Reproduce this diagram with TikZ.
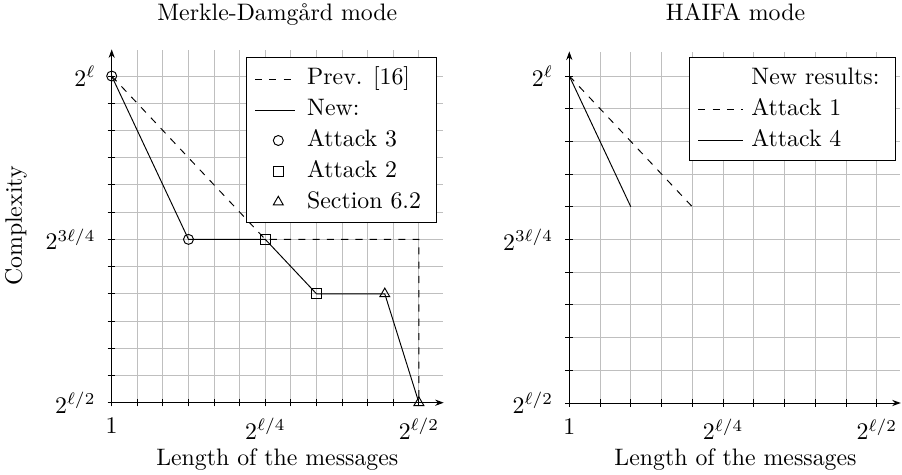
\documentclass[tikz,border=0pt]{standalone}
\usetikzlibrary{arrows.meta,shapes.geometric}
\begin{document}
\begin{tikzpicture}[x=0.42pt,y=-0.42pt,
  gridline/.style={black!25,line width=0.4pt},
  axisline/.style={line width=0.4pt,-{Stealth[length=3.6pt,width=2.6pt]}},
  tickmark/.style={line width=0.4pt},
  curve/.style={line width=0.4pt},
  prev/.style={curve,dashed},
  mkcirc/.style={draw,circle,line width=0.4pt,minimum size=4.2pt,inner sep=0pt},
  mksq/.style={draw,rectangle,line width=0.4pt,minimum size=4.2pt,inner sep=0pt},
  mktri/.style={draw,regular polygon,regular polygon sides=3,line width=0.4pt,minimum size=4.8pt,inner sep=0pt},
  ylab/.style={anchor=east,xshift=-3.3pt},
  xlab/.style={anchor=north,yshift=-3.1pt},
  legtext/.style={anchor=base west,inner sep=0pt},
  legbox/.style={draw,fill=white,line width=0.4pt},
  ttl/.style={anchor=base}
]
\useasboundingbox (0,0) rectangle (902,475);

% ---------------- left plot ----------------
\begin{scope}[shift={(111.7,402.7)},x=10.752pt,y=11.432pt]
  \foreach \i in {1,...,12} \draw[gridline] (\i,0) -- (\i,12.96);
  \foreach \j in {1,...,12} \draw[gridline] (0,\j) -- (12.94,\j);
  \foreach \i in {0,...,12} \draw[tickmark] ([yshift=-1.5pt]\i,0) -- ([yshift=1.5pt]\i,0);
  \foreach \j in {0,...,12} \draw[tickmark] ([xshift=-1.7pt]0,\j) -- ([xshift=1.5pt]0,\j);
  \coordinate (lo) at (0,0);
  \coordinate (lxe) at (12.97,0);
  \coordinate (lye) at (0,12.98);
  \draw[axisline] (lo) -- (lxe);
  \draw[axisline] (lo) -- (lye);
  \node[ylab] (ly1) at (0,12) {$2^{\ell}$};
  \node[ylab] (ly2) at (0,6) {$2^{3\ell/4}$};
  \node[ylab] (ly3) at (0,0) {$2^{\ell/2}$};
  \node[xlab] (lx1) at (0,0) {$1$};
  \node[xlab] (lx2) at (6,0) {$2^{\ell/4}$};
  \node[xlab] (lx3) at (12,0) {$2^{\ell/2}$};
  \coordinate (a0) at (0,12);
  \coordinate (a1) at (3,6);
  \coordinate (a2) at (6,6);
  \coordinate (a3) at (8,4);
  \coordinate (a4) at (10.667,4);
  \coordinate (a5) at (12,0);
  \coordinate (p1) at (12,6);
  \draw[prev] (a0) -- (a2) -- (p1) -- (a5);
  \draw[curve] (a0) -- (a1) -- (a2) -- (a3) -- (a4) -- (a5);
  \node[mkcirc] (m0) at (a0) {};
  \node[mkcirc] (m1) at (a1) {};
  \node[mksq] (m2) at (a2) {};
  \node[mksq] (m3) at (a3) {};
  \node[mktri] (m4) at (a4) {};
  \node[mktri] (m5) at (a5) {};
\end{scope}

% left legend
\draw[legbox] (246.7,57.3) rectangle (436,222.7);
\coordinate (l1a) at (255,79);   \coordinate (l1b) at (295,79);
\coordinate (l2a) at (255,110);  \coordinate (l2b) at (295,110);
\draw[prev] (l1a) -- (l1b);
\draw[curve] (l2a) -- (l2b);
\node[mkcirc] (lg3) at (278.3,140.5) {};
\node[mksq] (lg4) at (278.3,171.5) {};
\node[mktri] (lg5) at (278.3,202) {};
\node[legtext] (t1) at (306.7,85) {Prev. [16]};
\node[legtext] (t2) at (306.7,115.9) {New:};
\node[legtext] (t3) at (306.7,146.7) {Attack 3};
\node[legtext] (t4) at (306.7,177.6) {Attack 2};
\node[legtext] (t5) at (306.7,208.4) {Section 6.2};

% left titles
\node[ttl] (lt) at (277.3,20.5) {Merkle-Damgård mode};
\node[ttl] (lxl) at (277.3,466) {Length of the messages};
\node[rotate=90] (lyl) at (16,226) {Complexity};

% ---------------- right plot ----------------
\begin{scope}[shift={(569.3,403)},x=12.915pt,y=13.734pt]
  \foreach \i in {1,...,10} \draw[gridline] (\i,0) -- (\i,10.74);
  \foreach \j in {1,...,10} \draw[gridline] (0,\j) -- (10.77,\j);
  \foreach \i in {0,...,10} \draw[tickmark] ([yshift=-1.5pt]\i,0) -- ([yshift=1.5pt]\i,0);
  \foreach \j in {0,...,10} \draw[tickmark] ([xshift=-1.7pt]0,\j) -- ([xshift=1.5pt]0,\j);
  \coordinate (ro) at (0,0);
  \coordinate (rxe) at (10.78,0);
  \coordinate (rye) at (0,10.75);
  \draw[axisline] (ro) -- (rxe);
  \draw[axisline] (ro) -- (rye);
  \node[ylab] (ry1) at (0,10) {$2^{\ell}$};
  \node[ylab] (ry2) at (0,5) {$2^{3\ell/4}$};
  \node[ylab] (ry3) at (0,0) {$2^{\ell/2}$};
  \node[xlab] (rx1) at (0,0) {$1$};
  \node[xlab] (rx2) at (5,0) {$2^{\ell/4}$};
  \node[xlab] (rx3) at (10,0) {$2^{\ell/2}$};
  \coordinate (b0) at (0,10);
  \coordinate (b1) at (2,6);
  \coordinate (b2) at (4,6);
  \draw[prev] (b0) -- (b2);
  \draw[curve] (b0) -- (b1);
\end{scope}

% right legend
\draw[legbox] (689.3,57.3) rectangle (895,160);
\coordinate (r2a) at (698.3,109.3); \coordinate (r2b) at (743.3,109.3);
\coordinate (r3a) at (698.3,140);   \coordinate (r3b) at (743.3,140);
\draw[prev] (r2a) -- (r2b);
\draw[curve] (r3a) -- (r3b);
\node[legtext] (s1) at (751,84.3) {New results:};
\node[legtext] (s2) at (751,115.3) {Attack 1};
\node[legtext] (s3) at (751,146.3) {Attack 4};

% right titles
\node[ttl] (rt) at (735.5,20.5) {HAIFA mode};
\node[ttl] (rxl) at (735.5,466) {Length of the messages};
\end{tikzpicture}
\end{document}
